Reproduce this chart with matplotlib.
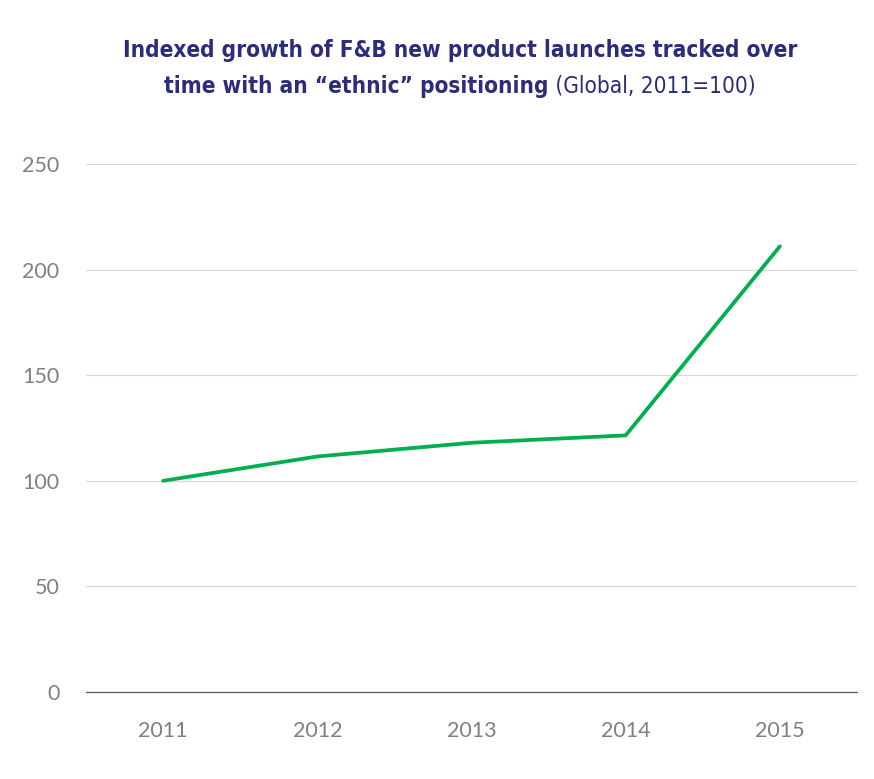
import matplotlib
matplotlib.use('Agg')
import matplotlib.pyplot as plt

years = ['2011', '2012', '2013', '2014', '2015']
index_values = [100, 111.5, 118, 121.5, 211]
y_ticks = [0, 50, 100, 150, 200, 250]

TITLE_LINE1 = 'Indexed growth of F&B new product launches tracked over'
TITLE_LINE2_BOLD = 'time with an \u201cethnic\u201d positioning'
TITLE_LINE2_NORMAL = ' (Global, 2011=100)'

NAVY = '#2B2C7C'
GREEN = '#00B050'
GRAY = '#808080'

fig = plt.figure(figsize=(8.74, 7.79), dpi=100)
ax = fig.add_axes([0.0984, 0.1117, 0.8821, 0.6778])

x = list(range(len(years)))
ax.plot(x, index_values, color=GREEN, lw=2.7, solid_capstyle='round',
        solid_joinstyle='miter', zorder=3)

ax.set_xlim(-0.5, len(years) - 0.5)
ax.set_ylim(0, 250)
ax.set_yticks(y_ticks)
ax.set_xticks(x)
ax.set_xticklabels(years)
ax.yaxis.grid(True, color='#D9D9D9', lw=0.9)
ax.set_axisbelow(True)
for side in ['top', 'right', 'left']:
    ax.spines[side].set_visible(False)
ax.spines['bottom'].set_color('#595959')
ax.spines['bottom'].set_linewidth(0.9)
ax.tick_params(axis='both', length=0, labelsize=15.5, labelcolor=GRAY)
ax.tick_params(axis='y', pad=19)
ax.tick_params(axis='x', pad=21)
for lab in ax.get_xticklabels() + ax.get_yticklabels():
    lab.set_fontfamily('Lato')

# title, two lines, second one mixes bold and normal
renderer = fig.canvas.get_renderer()
cx = 460 / 874
title_kw = dict(color=NAVY, family='DejaVu Sans', fontstretch='condensed',
                va='center')

t1 = fig.text(cx, 1 - 50 / 779, TITLE_LINE1, ha='center', fontsize=16,
              fontweight='bold', **title_kw)
# shrink first line so it spans about 675 px like the original
size = 16 * 675 / t1.get_window_extent(renderer).width
size = min(size, 19)
t1.set_fontsize(size)

y2 = 1 - 86 / 779
t_bold = fig.text(0, y2, TITLE_LINE2_BOLD, ha='left', fontsize=size,
                  fontweight='bold', **title_kw)
t_norm = fig.text(0, y2, TITLE_LINE2_NORMAL, ha='left', fontsize=size,
                  **title_kw)
wb = t_bold.get_window_extent(renderer).width / fig.bbox.width
wn = t_norm.get_window_extent(renderer).width / fig.bbox.width
start = cx - (wb + wn) / 2
t_bold.set_x(start)
t_norm.set_x(start + wb)

fig.savefig('out.png', dpi=100)
